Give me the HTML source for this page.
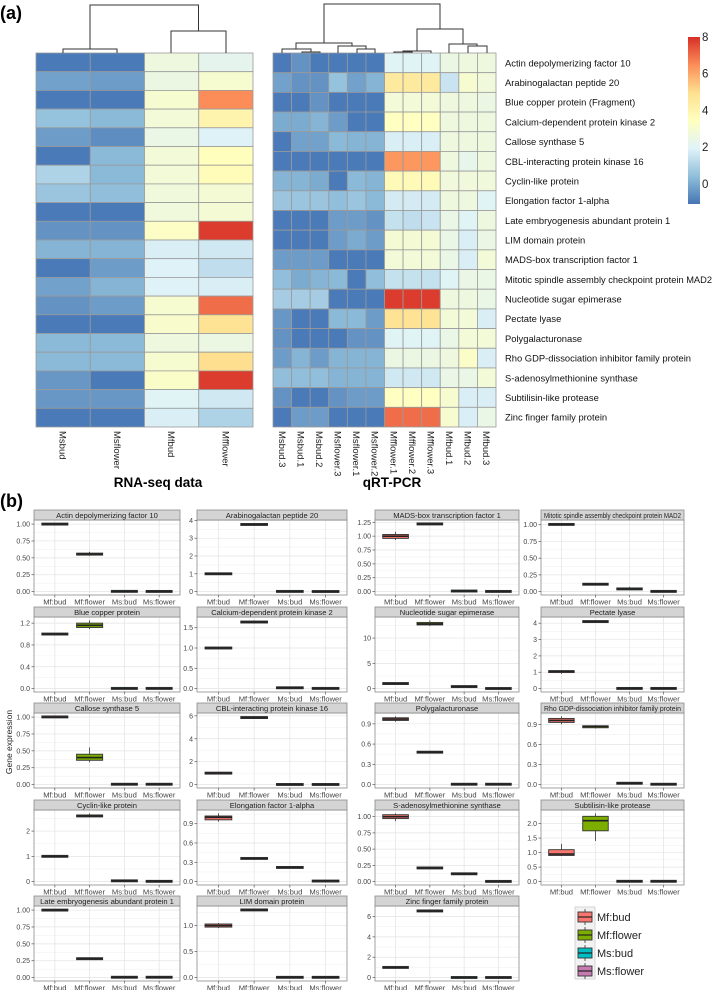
<!DOCTYPE html>
<html><head><meta charset="utf-8">
<style>
html,body{margin:0;padding:0;background:#fff;}
svg{display:block;font-family:"Liberation Sans",Arial,sans-serif;}
</style></head>
<body>
<svg id="fig" width="714" height="990" viewBox="0 0 714 990" xmlns="http://www.w3.org/2000/svg">
<text x="0" y="19" font-size="18" font-weight="bold">(a)</text>
<text x="0" y="507" font-size="18" font-weight="bold">(b)</text>
<text x="158" y="487" font-size="13.5" font-weight="bold" text-anchor="middle">RNA-seq data</text>
<text x="392" y="487" font-size="13.5" font-weight="bold" text-anchor="middle">qRT-PCR</text>
<g id="heat"></g>
<g id="dendro" stroke="#333" stroke-width="1" fill="none"></g>
<g id="cbar"></g>
<g id="boxes"></g>
<text transform="translate(12,742) rotate(-90)" font-size="8.5" fill="#222" text-anchor="middle">Gene expression</text>
</svg>
<script>
// ===== Heatmap data =====
const geneNames = ["Actin depolymerizing factor 10","Arabinogalactan peptide 20","Blue copper protein (Fragment)","Calcium-dependent protein kinase 2","Callose synthase 5","CBL-interacting protein kinase 16","Cyclin-like protein","Elongation factor 1-alpha","Late embryogenesis abundant protein 1","LIM domain protein","MADS-box transcription factor 1","Mitotic spindle assembly checkpoint protein MAD2","Nucleotide sugar epimerase","Pectate lyase","Polygalacturonase","Rho GDP-dissociation inhibitor family protein","S-adenosylmethionine synthase","Subtilisin-like protease","Zinc finger family protein"];
const rnaCols = ["Msbud","Msflower","Mfbud","Mfflower"];
const rnaValues = [
[-1,-1,2.6,2.2],[-0.2,-0.3,2.5,3.0],[-1,-1,3.0,6.5],[0.5,0.3,2.8,4.0],[-0.3,-0.6,2.4,1.9],
[-1,0.3,2.8,3.5],[1.0,0.3,2.8,3.6],[0.6,0.4,2.7,2.9],[-1,-1,2.7,2.9],[-0.5,-0.5,3.3,7.8],
[0.2,0.2,1.8,1.6],[-1,-0.3,1.9,1.3],[-0.2,0.2,1.9,1.8],[-0.5,-0.3,3.0,7.0],[-1,-1,3.1,4.8],
[0.3,0.3,2.6,2.5],[0.3,0.3,3.0,5.0],[-0.4,-1,3.2,7.8],[-0.4,-0.4,2.0,1.6],[-1,-1,1.8,1.0]];
const pcrCols = ["Msbud.3","Msbud.1","Msbud.2","Msflower.3","Msflower.1","Msflower.2","Mfflower.1","Mfflower.2","Mfflower.3","Mfbud.1","Mfbud.2","Mfbud.3"];
const pcrValues = [
[-1,-0.5,-1,-1,-1,-1,2.0,2.0,2.0,2.5,2.6,2.6],
[-0.2,-0.5,-0.5,0.5,-0.2,0.2,4.5,4.5,4.5,1.5,3.0,2.7],
[-1,-1,-0.5,-1,-1,-1,2.8,2.8,2.8,2.6,2.6,2.5],
[0,0,0.2,-0.3,-1,-1,3.4,3.4,3.4,2.6,2.6,2.6],
[-1,-0.2,-0.2,0.3,0.2,0.2,1.8,1.8,1.8,2.6,2.6,2.6],
[-1,-1,-1,-1,-1,-1,6.3,6.3,6.3,2.6,2.3,2.6],
[0.2,0.2,0,-1,0.3,0.2,3.7,3.7,3.7,2.7,2.7,2.7],
[0.6,0.6,0.6,0.4,0.6,0.3,1.7,1.7,1.7,2.6,2.6,2.0],
[-1,-1,-1,-0.3,-0.3,-0.5,1.4,1.3,1.5,2.4,2.0,2.6],
[-1,-1,-1,-0.3,0,-0.3,2.9,2.9,2.9,2.4,1.8,2.5],
[-0.3,-0.3,-0.3,-1,-1,-1,2.8,2.8,2.8,2.4,1.8,2.8],
[0.4,0,0.2,0.3,-1,0.4,1.4,1.4,1.4,2.0,2.4,2.4],
[0.8,0.8,0.8,-1,-1,-1,7.8,7.8,7.8,2.6,2.6,2.4],
[-0.4,-1,-1,0.3,0.3,-0.3,4.8,4.8,4.8,2.8,2.8,1.8],
[-0.5,-1,-1,-1,-0.5,-0.5,2.0,2.0,2.0,2.4,2.8,2.8],
[-0.3,0.2,-0.3,0.2,0.2,0.2,2.5,2.5,2.5,2.6,3.2,1.8],
[0.4,0.4,0.4,0.2,0.2,0.2,1.6,1.6,1.6,2.4,2.4,2.8],
[-0.5,-1,-1,-0.5,-0.3,-0.3,3.4,3.4,3.4,3.0,1.8,1.8],
[-1,-0.3,-0.3,-1,-1,-1,7.0,7.0,7.0,3.0,1.8,2.4]];
const colorTicks = [0,2,4,6,8];

// ===== Boxplot data ===== [lower, q1, median, q3, upper]
const panelTitles = ["Actin depolymerizing factor 10","Arabinogalactan peptide 20","MADS-box transcription factor 1","Mitotic spindle assembly checkpoint protein MAD2",
"Blue copper protein","Calcium-dependent protein kinase 2","Nucleotide sugar epimerase","Pectate lyase",
"Callose synthase 5","CBL-interacting protein kinase 16","Polygalacturonase","Rho GDP-dissociation inhibitor family protein",
"Cyclin-like protein","Elongation factor 1-alpha","S-adenosylmethionine synthase","Subtilisin-like protease",
"Late embryogenesis abundant protein 1","LIM domain protein","Zinc finger family protein"];
const panelTicks = [
["0.00","0.25","0.50","0.75","1.00"],["0","1","2","3","4"],["0.00","0.25","0.50","0.75","1.00","1.25"],["0.00","0.25","0.50","0.75","1.00"],
["0.0","0.4","0.8","1.2"],["0.0","0.5","1.0","1.5"],["0","5","10"],["0","1","2","3","4"],
["0.00","0.25","0.50","0.75","1.00"],["0","2","4","6"],["0.0","0.3","0.6","0.9"],["0.0","0.3","0.6","0.9"],
["0","1","2"],["0.0","0.3","0.6","0.9"],["0.00","0.25","0.50","0.75","1.00"],["0.0","0.5","1.0","1.5","2.0"],
["0.00","0.25","0.50","0.75","1.00"],["0.0","0.5","1.0"],["0","2","4","6"]];
const categories = ["Mf:bud","Mf:flower","Ms:bud","Ms:flower"];
const mfBud = [
[0.99,0.995,1,1.005,1.01],[0.98,0.99,1,1.01,1.02],[0.93,0.96,1.0,1.03,1.08],[0.99,1.0,1.005,1.01,1.02],
[0.98,0.99,1.0,1.01,1.02],[0.99,0.995,1,1.005,1.01],[0.95,0.98,1.0,1.02,1.05],[0.9,0.98,1.05,1.1,1.12],
[0.99,1,1,1.005,1.01],[0.98,0.99,1,1.01,1.02],[0.93,0.95,0.97,0.99,1.01],[0.9,0.93,0.96,0.99,1.02],
[0.99,0.995,1,1.005,1.01],[0.93,0.96,1.0,1.02,1.06],[0.93,0.97,1.0,1.03,1.05],[0.88,0.9,0.95,1.1,1.3],
[0.99,0.995,1,1.005,1.01],[0.95,0.97,1.0,1.03,1.05],[0.98,0.99,1,1.01,1.02]];
const mfFlower = [
[0.53,0.54,0.555,0.57,0.59],[3.72,3.74,3.77,3.8,3.83],[1.21,1.215,1.22,1.225,1.23],[0.1,0.105,0.11,0.115,0.12],
[1.09,1.12,1.16,1.2,1.25],[1.6,1.62,1.64,1.66,1.68],[12.4,12.6,12.8,13.1,13.5],[4.05,4.07,4.1,4.13,4.17],
[0.33,0.36,0.4,0.45,0.55],[5.75,5.8,5.85,5.9,5.95],[0.47,0.475,0.48,0.485,0.49],[0.84,0.85,0.87,0.88,0.89],
[2.55,2.57,2.6,2.63,2.7],[0.355,0.358,0.36,0.362,0.365],[0.205,0.208,0.21,0.212,0.215],[1.4,1.75,2.1,2.25,2.35],
[0.275,0.278,0.28,0.282,0.285],[1.29,1.295,1.3,1.305,1.31],[6.4,6.45,6.55,6.65,6.7]];
const msBud = [
[0,0.001,0.003,0.006,0.008],[0,0.005,0.01,0.015,0.02],[0.005,0.008,0.01,0.012,0.015],[0.02,0.03,0.04,0.05,0.07],
[0,0.002,0.003,0.005,0.006],[0.015,0.018,0.02,0.022,0.025],[0.35,0.38,0.4,0.42,0.45],[0,0.005,0.01,0.015,0.02],
[0,0.003,0.005,0.007,0.01],[0,0.005,0.01,0.015,0.02],[0,0.003,0.005,0.007,0.01],[0.015,0.018,0.02,0.022,0.025],
[0.02,0.025,0.03,0.035,0.04],[0.215,0.218,0.22,0.222,0.225],[0.115,0.118,0.12,0.122,0.125],[0,0.005,0.01,0.015,0.02],
[0,0.003,0.005,0.007,0.01],[0,0.003,0.005,0.007,0.01],[0,0.005,0.01,0.015,0.02]];
const msFlower = [
[0,0.001,0.002,0.004,0.005],[0,0.003,0.005,0.007,0.01],[0,0.002,0.003,0.004,0.005],[0,0.001,0.003,0.005,0.006],
[0,0.002,0.003,0.005,0.006],[0,0.003,0.005,0.007,0.01],[0,0.01,0.02,0.03,0.04],[0,0.005,0.01,0.015,0.02],
[0,0.003,0.005,0.007,0.01],[0,0.005,0.01,0.015,0.02],[0,0.003,0.005,0.007,0.01],[0,0.003,0.005,0.007,0.01],
[0,0.005,0.01,0.015,0.02],[0,0.005,0.01,0.012,0.015],[0,0.001,0.003,0.005,0.006],[0,0.005,0.01,0.015,0.02],
[0,0.003,0.005,0.007,0.01],[0,0.003,0.005,0.007,0.01],[0,0.005,0.01,0.015,0.02]];
const seriesFill = ["#F8766D","#7CAE00","#00BFC4","#C77CB0"];

const NS="http://www.w3.org/2000/svg";
function mk(tag,attrs,parent){const e=document.createElementNS(NS,tag);for(const k in attrs)e.setAttribute(k,attrs[k]);parent.appendChild(e);return e;}
function fit(t,maxW){try{const w=t.getComputedTextLength();if(w>maxW){t.setAttribute('textLength',maxW);t.setAttribute('lengthAdjust','spacingAndGlyphs');}}catch(e){}}

const palette=["#4575B4","#91BFDB","#E0F3F8","#FFFFBF","#FEE090","#FC8D59","#D73027"];
const vMin=-1.1,vMax=8;
function hex(c){return [parseInt(c.substr(1,2),16),parseInt(c.substr(3,2),16),parseInt(c.substr(5,2),16)];}
function colorOf(v){let t=(v-vMin)/(vMax-vMin);t=Math.max(0,Math.min(1,t));const p=t*(palette.length-1);const i=Math.min(palette.length-2,Math.floor(p));const f=p-i;const a=hex(palette[i]),b=hex(palette[i+1]);return "rgb("+a.map((x,j)=>Math.round(x+(b[j]-x)*f)).join(",")+")";}

const heat=document.getElementById('heat');
const L={x:36,y:53,w:217,h:374};
const lcw=L.w/rnaCols.length, lrh=L.h/rnaValues.length;
rnaValues.forEach((row,r)=>row.forEach((v,c)=>{
  const e=mk('rect',{x:L.x+c*lcw,y:L.y+r*lrh,width:lcw,height:lrh,fill:colorOf(v),stroke:'#9a9a9a','stroke-width':0.8},heat);
  
  
}));
rnaCols.forEach((n,c)=>{
  const t=mk('text',{transform:`translate(${L.x+(c+0.5)*lcw-3.5},431) rotate(90)`,'font-size':9.5,fill:'#222'},heat);t.textContent=n;
  
  
});
const R={x:273,y:53,w:223,h:374};
const rcw=R.w/pcrCols.length, rrh=R.h/pcrValues.length;
pcrValues.forEach((row,r)=>row.forEach((v,c)=>{
  const e=mk('rect',{x:R.x+c*rcw,y:R.y+r*rrh,width:rcw,height:rrh,fill:colorOf(v),stroke:'#9a9a9a','stroke-width':0.8},heat);
  
  
}));
pcrCols.forEach((n,c)=>{
  const t=mk('text',{transform:`translate(${R.x+(c+0.5)*rcw-3.5},431) rotate(90)`,'font-size':9.5,fill:'#222'},heat);t.textContent=n;
  
  
});
geneNames.forEach((n,r)=>{
  const t=mk('text',{x:505,y:R.y+(r+0.5)*rrh+3.5,'font-size':9.4,fill:'#111'},heat);t.textContent=n;
  
  
  fit(t,207);
});

const dg=document.getElementById('dendro');
function U(x1,x2,y,yl,yr){mk('path',{d:`M${x1},${yl}V${y}H${x2}V${yr}`},dg);}
U(63,117,49,53,53);U(171,226,31,53,53);U(90,198.5,5,49,31);
U(302,320,52,53,53);U(282,311,49,53,52);U(357,375,49,53,53);U(338,366,46,53,49);U(296,352,43,49,46);
U(394,412,52,53,53);U(403,431,51,52,53);U(468,487,46,53,53);U(449,477,44,53,46);U(417,463,29,51,44);U(324,440,4,43,29);

const cb=document.getElementById('cbar');
const defs=mk('defs',{},cb);const lg=mk('linearGradient',{id:'cbg',x1:0,y1:1,x2:0,y2:0},defs);
palette.forEach((c,i)=>mk('stop',{offset:i/(palette.length-1),'stop-color':c},lg));
const cbTop=37,cbBot=204;
function cbY(v){return cbBot-(v-vMin)/(vMax-vMin)*(cbBot-cbTop);}
const cbr=mk('rect',{x:688,y:cbTop,width:12,height:cbBot-cbTop,fill:'url(#cbg)'},cb);


colorTicks.forEach(v=>{
  const t=mk('text',{x:702,y:cbY(v)+4,'font-size':11.5,fill:'#222'},cb);t.textContent=v;
  
  
});

const bx=document.getElementById('boxes');
const colX=[34,197,375,541], colW=[146,150,144,143];
const rowTop=[510,607,703,800,896];
const panelOrder=[[0,1,2,3],[4,5,6,7],[8,9,10,11],[12,13,14,15],[16,17,18]];
const seriesData=[mfBud,mfFlower,msBud,msFlower];
panelOrder.forEach((row,ri)=>row.forEach((p,ci)=>{
  const px=colX[ci],pw=colW[ci],st=rowTop[ri],sh=10,pt=st+sh,ph=75,pb=pt+ph;
  const g=mk('g',{},bx);
  
  
  let lo=Infinity,hi=-Infinity;
  seriesData.forEach(s=>{lo=Math.min(lo,s[p][0]);hi=Math.max(hi,s[p][4]);});
  const pad=(hi-lo)*0.05, d0=lo-pad, d1=hi+pad;
  const y=v=>pb-(v-d0)/(d1-d0)*ph;
  const xc=i=>px+(i+0.6)/4.2*pw;
  mk('rect',{x:px,y:pt,width:pw,height:ph,fill:'#fff'},g);
  const tv=panelTicks[p].map(Number);
  const step=tv[1]-tv[0];
  for(let k=-1;k<tv.length;k++){const m=tv[0]+(k+0.5)*step;if(m>d0&&m<d1)mk('line',{x1:px,x2:px+pw,y1:y(m),y2:y(m),stroke:'#f2f2f2','stroke-width':0.6},g);}
  tv.forEach(v=>mk('line',{x1:px,x2:px+pw,y1:y(v),y2:y(v),stroke:'#e3e3e3','stroke-width':0.7},g));
  categories.forEach((c,i)=>mk('line',{x1:xc(i),x2:xc(i),y1:pt,y2:pb,stroke:'#e3e3e3','stroke-width':0.7},g));
  mk('rect',{x:px,y:pt,width:pw,height:ph,fill:'none',stroke:'#8a8a8a','stroke-width':0.8},g);
  const s=mk('rect',{x:px,y:st,width:pw,height:sh,fill:'#d4d4d4',stroke:'#8a8a8a','stroke-width':0.8},g);
  
  
  const tt=mk('text',{x:px+pw/2,y:st+7.8,'font-size':7.6,'text-anchor':'middle',fill:'#222'},g);tt.textContent=panelTitles[p];
  
  
  fit(tt,pw-6);
  panelTicks[p].forEach(lbl=>{
    const v=Number(lbl);
    mk('line',{x1:px-2.5,x2:px,y1:y(v),y2:y(v),stroke:'#555','stroke-width':0.7},g);
    const t=mk('text',{x:px-4,y:y(v)+2.5,'font-size':7,'text-anchor':'end',fill:'#444'},g);t.textContent=lbl;
    
    
  });
  categories.forEach((c,i)=>{
    mk('line',{x1:xc(i),x2:xc(i),y1:pb,y2:pb+2.5,stroke:'#555','stroke-width':0.7},g);
    const t=mk('text',{x:xc(i),y:pb+9.5,'font-size':7.6,'text-anchor':'middle',fill:'#444'},g);t.textContent=c;
    
    
    const b=seriesData[i][p], bw=0.75/4.2*pw, x0=xc(i)-bw/2;
    mk('line',{x1:xc(i),x2:xc(i),y1:y(b[0]),y2:y(b[4]),stroke:'#333','stroke-width':0.8},g);
    const bh=Math.max(2,y(b[1])-y(b[3]));
    const r=mk('rect',{x:x0,y:(y(b[1])+y(b[3]))/2-bh/2,width:bw,height:bh,fill:seriesFill[i],stroke:'#333','stroke-width':0.9},g);
    
    
    mk('line',{x1:x0,x2:x0+bw,y1:y(b[2]),y2:y(b[2]),stroke:'#222','stroke-width':1.6},g);
  });
}));
const lgG=mk('g',{},bx);


mk('rect',{x:575,y:907,width:20,height:72,fill:'#f2f2f2',stroke:'#ccc','stroke-width':0.8},lgG);
categories.forEach((c,i)=>{
  const ey=908+i*18;
  const e=mk('g',{},lgG);
  
  
  mk('line',{x1:585,x2:585,y1:ey+1,y2:ey+17,stroke:'#333','stroke-width':0.8},e);
  mk('rect',{x:578,y:ey+4,width:14,height:10,fill:seriesFill[i],stroke:'#333','stroke-width':0.9},e);
  mk('line',{x1:578,x2:592,y1:ey+9,y2:ey+9,stroke:'#222','stroke-width':1.2},e);
  const t=mk('text',{x:597,y:ey+13,'font-size':11,fill:'#222'},e);t.textContent=c;
});
</script>
</body></html>
